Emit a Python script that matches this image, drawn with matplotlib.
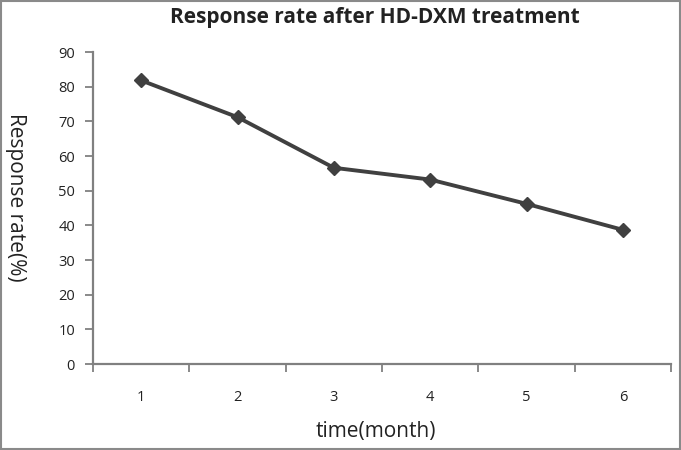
import matplotlib
matplotlib.use("Agg")
import matplotlib.pyplot as plt
from matplotlib.patches import Rectangle

months = ["1", "2", "3", "4", "5", "6"]
response = [81.8, 71.2, 56.6, 53.2, 46.2, 38.7]
yticks = [0, 10, 20, 30, 40, 50, 60, 70, 80, 90]

plt.rcParams['font.family'] = ['Open Sans', 'DejaVu Sans']

fig = plt.figure(figsize=(6.81, 4.50), dpi=100)
ax = fig.add_axes([93/681, 1-364/450, (671-93)/681, (364-52)/450])

x = list(range(len(months)))
ax.plot(x, response, color="#404040", lw=2.8, marker="D", ms=7,
        markerfacecolor="#404040", markeredgecolor="#404040")

ax.set_xlim(-0.5, len(months) - 0.5)
ax.set_ylim(0, 90)
ax.set_yticks(yticks)
ax.set_yticklabels([str(v) for v in yticks], fontsize=10.5, color="#222222")
ax.set_xticks(x)
ax.set_xticklabels(months, fontsize=10.5, color="#222222")
ax.tick_params(axis="x", length=0, pad=19)
ax.set_xticks([i - 0.5 for i in range(len(months) + 1)], minor=True)
ax.tick_params(axis="x", which="minor", length=6, color="#808080", width=1.3, direction="out")
ax.tick_params(axis="y", length=6, color="#808080", width=1.3, direction="out", pad=7)

for s in ["top", "right"]:
    ax.spines[s].set_visible(False)
for s in ["left", "bottom"]:
    ax.spines[s].set_color("#808080")
    ax.spines[s].set_linewidth(1.6)

fig.text(376/681, 1-432/450, "time(month)", fontsize=15, color="#222222",
         ha="center", va="center")
fig.text(15/681, 1-197/450, "Response rate(%)", rotation=270, fontsize=15,
         color="#222222", ha="center", va="center")
fig.text(375/681, 1-18/450, "Response rate after HD-DXM treatment", fontsize=15,
         fontweight="bold", color="#222222", ha="center", va="center")

fig.patches.append(Rectangle((0.001, 0.002), 0.997, 0.996, transform=fig.transFigure,
                             fill=False, edgecolor="#8a8a8a", lw=1.5))

fig.savefig("out.png", dpi=100)
